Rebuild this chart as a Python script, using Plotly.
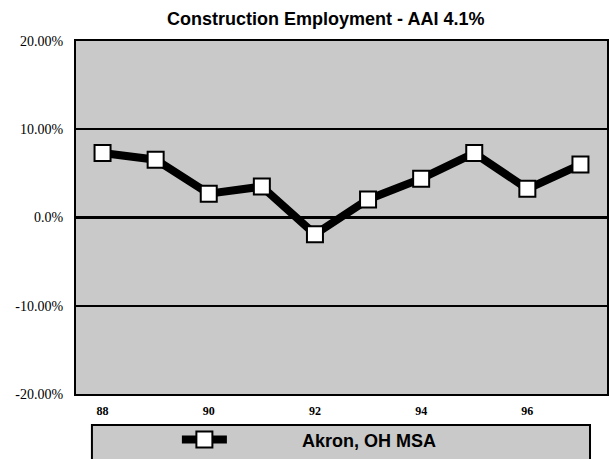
import plotly.graph_objects as go

# Annual construction employment growth, Akron OH MSA (percent)
years = [88, 89, 90, 91, 92, 93, 94, 95, 96, 97]
growth = [7.3, 6.55, 2.7, 3.5, -1.9, 2.05, 4.4, 7.3, 3.25, 6.0]

x_ticks = [88, 90, 92, 94, 96]
x_labels = ["88", "90", "92", "94", "96"]
y_ticks = [-20, -10, 0, 10, 20]
y_labels = ["-20.00%", "-10.00%", "0.0%", "10.00%", "20.00%"]

series_name = "Akron, OH MSA"
title_text = "Construction Employment - AAI 4.1%"

PLOT_BG = "#c9c9c9"
SANS = "Liberation Sans, Arial, sans-serif"
SERIF = "Liberation Serif, Times New Roman, serif"

fig = go.Figure()
fig.add_trace(go.Scatter(
    x=years,
    y=growth,
    mode="lines+markers",
    name="\u00a0" * 14 + series_name,
    line=dict(color="black", width=8),
    marker=dict(symbol="square", size=16, color="white",
                line=dict(color="black", width=2)),
    hovertemplate="%{x}: %{y:.2f}%<extra></extra>",
))

# legend panel below the plot area
fig.add_shape(
    type="rect", xref="paper", yref="paper",
    x0=0.030, x1=0.968, y0=-0.30, y1=-0.088,
    fillcolor=PLOT_BG, line=dict(color="black", width=2), layer="below",
)

fig.update_layout(
    width=610, height=459,
    margin=dict(l=76, r=1, t=41, b=60),
    paper_bgcolor="white",
    plot_bgcolor=PLOT_BG,
    title=dict(text=title_text, x=0.534, xanchor="center",
               y=1 - 19 / 459, yanchor="middle",
               font=dict(family=SANS, size=18, color="black", weight="bold")),
    showlegend=True,
    legend=dict(orientation="h", x=0.19, xanchor="left",
                y=-0.13, yanchor="middle",
                bgcolor="rgba(0,0,0,0)", borderwidth=0,
                itemwidth=45,
                font=dict(family=SANS, size=18, color="black", weight="bold")),
    xaxis=dict(
        range=[87.5, 97.5],
        tickvals=x_ticks, ticktext=x_labels,
        showgrid=False, zeroline=False,
        showline=True, linecolor="black", linewidth=2, mirror=True,
        ticks="", ticklabelstandoff=5,
        tickfont=dict(family=SERIF, size=12, color="black", weight="bold"),
    ),
    yaxis=dict(
        range=[-20, 20],
        tickvals=y_ticks, ticktext=y_labels,
        showgrid=True, gridcolor="black", gridwidth=1.5,
        zeroline=True, zerolinecolor="black", zerolinewidth=3,
        showline=True, linecolor="black", linewidth=2, mirror=True,
        ticks="", ticklabelstandoff=8,
        tickfont=dict(family=SERIF, size=14, color="black"),
    ),
)

fig.write_html("out.html")
